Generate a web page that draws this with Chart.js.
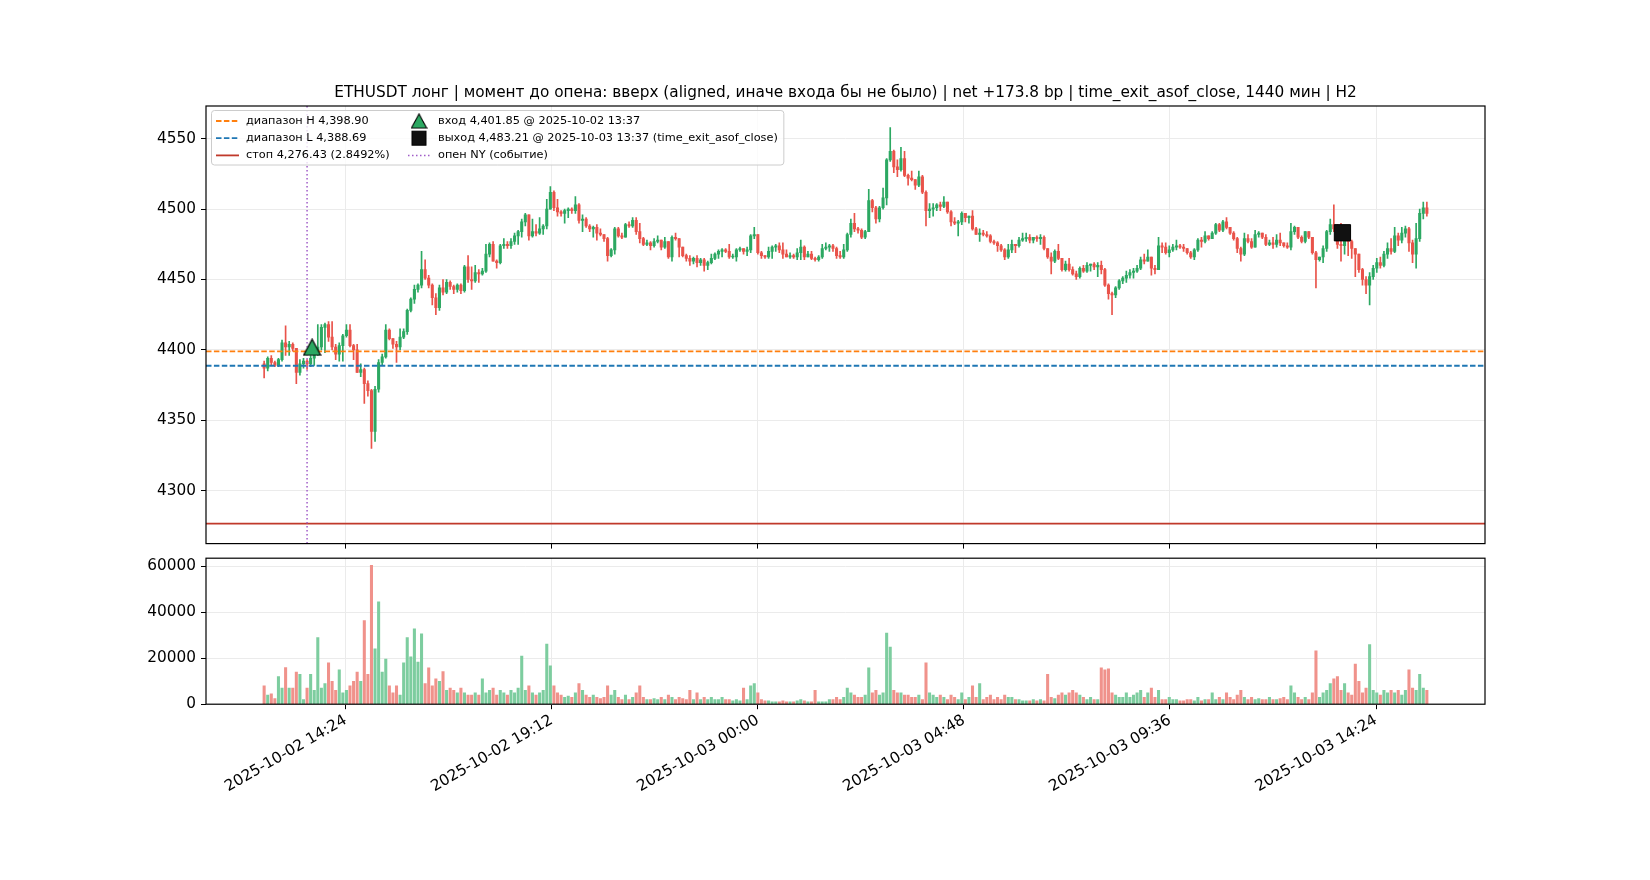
<!DOCTYPE html>
<html>
<head>
<meta charset="utf-8">
<script src="https://cdn.jsdelivr.net/npm/chart.js@4.4.1/dist/chart.umd.min.js"></script>
<style>
html,body{margin:0;padding:0;background:#fff;}
#wrap{position:relative;width:1650px;height:880px;overflow:hidden;}
#wrap canvas{position:absolute;left:0;top:0;}
</style>
</head>
<body>
<div id="wrap">
  <canvas id="priceChart" width="1650" height="880"></canvas>
  <canvas id="volChart" width="1650" height="880"></canvas>
</div>
<script>
// ---- data (5-min candles, 2025-10-02 12:30 .. 2025-10-03 15:35) ----
const chartTitle = 'ETHUSDT лонг | момент до опена: вверх (aligned, иначе входа бы не было) | net +173.8 bp | time_exit_asof_close, 1440 мин | H2';
const startTime = 12 * 60 + 30;   // minutes since 2025-10-02 00:00
const stepMin = 5;
const firstOpen = 4390;

const closes = [
  4387,4394,4391,4389,4393,4405,4402,4404,4401,4384,
  4390,4392,4390,4394,4398,4402,4416,4418,4409,4402,
  4397,4403,4410,4414,4403,4400,4384,4386,4376,4371,
  4342,4372,4391,4395,4414,4408,4404,4402,4409,4413,
  4428,4436,4443,4446,4457,4451,4446,4437,4430,4444,
  4441,4448,4445,4443,4446,4442,4459,4450,4449,4455,
  4454,4456,4468,4475,4463,4462,4474,4475,4474,4477,
  4481,4484,4491,4496,4481,4484,4483,4486,4488,4500,
  4512,4501,4498,4497,4499,4500,4499,4503,4492,4493,
  4488,4486,4487,4483,4482,4479,4467,4471,4486,4481,
  4480,4489,4488,4492,4484,4479,4475,4476,4474,4477,
  4478,4473,4477,4466,4480,4479,4473,4467,4465,4463,
  4465,4462,4464,4460,4462,4465,4468,4470,4471,4470,
  4466,4466,4471,4472,4470,4471,4481,4482,4469,4467,
  4466,4470,4473,4474,4471,4468,4466,4467,4466,4469,
  4473,4466,4468,4465,4464,4466,4472,4473,4474,4472,
  4467,4466,4471,4482,4490,4486,4485,4480,4484,4506,
  4501,4493,4501,4508,4535,4541,4530,4528,4536,4524,
  4522,4521,4517,4523,4512,4499,4500,4501,4503,4502,
  4505,4498,4491,4490,4491,4497,4494,4495,4486,4482,
  4483,4482,4481,4477,4476,4474,4471,4466,4471,4475,
  4474,4478,4479,4480,4478,4480,4479,4480,4472,4466,
  4463,4470,4465,4457,4461,4457,4454,4452,4458,4456,
  4460,4461,4459,4460,4457,4446,4440,4439,4444,4449,
  4451,4453,4455,4456,4458,4464,4463,4466,4458,4457,
  4474,4473,4469,4471,4473,4474,4473,4472,4469,4466,
  4471,4478,4477,4481,4479,4483,4489,4485,4491,4487,
  4483,4479,4472,4468,4479,4477,4473,4482,4483,4480,
  4475,4476,4475,4478,4476,4474,4473,4484,4487,4480,
  4477,4484,4480,4469,4464,4466,4472,4484,4489,4486,
  4475,4474,4482,4477,4472,4468,4457,4450,4446,4452,
  4458,4462,4460,4468,4472,4470,4481,4478,4483,4486,
  4476,4468,4479,4497,4501,4497
];
const highs = [
  4392,4395,4396,4392,4394,4407,4417,4406,4405,4401,
  4393,4394,4393,4396,4400,4418,4418,4419,4420,4420,
  4404,4405,4411,4418,4418,4404,4404,4390,4387,4378,
  4372,4374,4393,4397,4418,4415,4408,4406,4415,4415,
  4429,4437,4446,4447,4470,4464,4453,4447,4440,4446,
  4450,4450,4449,4446,4447,4447,4460,4467,4459,4460,
  4457,4458,4475,4476,4477,4464,4475,4479,4477,4479,
  4483,4485,4493,4497,4496,4493,4489,4494,4489,4507,
  4516,4513,4507,4499,4500,4501,4501,4509,4504,4496,
  4494,4489,4488,4489,4486,4482,4480,4472,4487,4487,
  4483,4490,4491,4494,4494,4490,4480,4478,4477,4479,
  4481,4478,4480,4477,4481,4483,4479,4473,4468,4467,
  4466,4467,4465,4465,4463,4468,4469,4471,4472,4472,
  4475,4468,4472,4473,4472,4473,4482,4487,4482,4470,
  4467,4473,4474,4475,4476,4476,4471,4469,4468,4472,
  4478,4474,4470,4470,4466,4467,4475,4476,4475,4475,
  4473,4470,4475,4483,4493,4497,4487,4486,4485,4514,
  4507,4502,4502,4515,4536,4558,4542,4535,4544,4541,
  4525,4527,4521,4527,4524,4513,4504,4504,4504,4505,
  4509,4505,4499,4494,4492,4498,4497,4495,4499,4487,
  4486,4485,4484,4482,4478,4477,4475,4472,4475,4478,
  4475,4480,4483,4483,4482,4480,4481,4482,4481,4472,
  4469,4471,4475,4465,4463,4465,4459,4456,4459,4460,
  4462,4461,4462,4462,4463,4458,4447,4441,4445,4450,
  4452,4456,4457,4458,4460,4466,4468,4471,4466,4460,
  4480,4476,4476,4474,4475,4478,4475,4475,4472,4470,
  4472,4479,4480,4484,4481,4484,4490,4490,4492,4494,
  4487,4484,4480,4473,4483,4482,4479,4485,4484,4483,
  4482,4478,4480,4482,4483,4476,4476,4490,4488,4487,
  4481,4484,4484,4480,4470,4466,4474,4485,4493,4503,
  4489,4490,4483,4483,4478,4472,4468,4458,4452,4455,
  4460,4465,4466,4470,4476,4479,4487,4483,4487,4488,
  4487,4478,4490,4500,4505,4505
];
const lows = [
  4380,4385,4389,4388,4388,4392,4396,4396,4399,4376,
  4382,4387,4386,4388,4389,4396,4400,4398,4406,4400,
  4393,4392,4392,4409,4402,4393,4384,4381,4362,4367,
  4330,4335,4370,4389,4394,4407,4401,4391,4400,4408,
  4411,4427,4433,4441,4444,4450,4444,4432,4425,4428,
  4439,4440,4443,4440,4441,4440,4441,4448,4443,4448,
  4448,4453,4455,4466,4463,4458,4461,4472,4472,4472,
  4475,4475,4480,4488,4478,4480,4481,4482,4482,4486,
  4500,4499,4495,4495,4490,4494,4497,4497,4490,4484,
  4487,4484,4480,4478,4481,4477,4463,4466,4468,4480,
  4479,4480,4487,4487,4482,4476,4474,4474,4471,4473,
  4476,4471,4472,4465,4463,4478,4466,4466,4463,4460,
  4461,4459,4460,4456,4457,4461,4464,4465,4466,4469,
  4465,4465,4463,4470,4468,4467,4469,4479,4468,4465,
  4465,4465,4465,4470,4469,4465,4466,4465,4465,4464,
  4464,4464,4466,4464,4463,4463,4465,4471,4470,4470,
  4465,4465,4465,4470,4480,4484,4483,4479,4479,4484,
  4498,4490,4491,4500,4503,4534,4526,4523,4527,4523,
  4517,4520,4514,4516,4511,4488,4494,4495,4499,4499,
  4501,4497,4488,4489,4481,4489,4491,4490,4485,4482,
  4477,4481,4480,4476,4475,4470,4470,4464,4465,4469,
  4469,4473,4477,4477,4476,4476,4477,4475,4471,4465,
  4454,4462,4464,4456,4456,4456,4453,4450,4451,4455,
  4455,4456,4457,4452,4454,4445,4436,4425,4437,4443,
  4447,4448,4451,4451,4455,4457,4461,4463,4453,4454,
  4457,4469,4468,4466,4470,4471,4472,4470,4468,4465,
  4464,4470,4473,4476,4478,4479,4482,4484,4484,4486,
  4482,4478,4469,4463,4467,4476,4472,4473,4480,4479,
  4474,4474,4472,4473,4474,4473,4472,4471,4482,4479,
  4476,4476,4479,4468,4444,4463,4462,4470,4482,4484,
  4472,4463,4468,4467,4465,4452,4455,4446,4440,4432,
  4450,4455,4458,4459,4465,4468,4469,4474,4476,4480,
  4470,4462,4458,4477,4493,4495
];
const volumes = [
  8000,4000,4500,2500,12000,7000,16000,7000,7000,14000,
  13000,2000,7000,13000,6000,29000,7000,9000,18000,10000,
  6000,15000,5000,6000,8000,10000,14000,10000,36400,13000,
  60500,24100,44600,14000,19700,8000,5000,8000,4000,18000,
  29000,20600,32800,18400,30600,9000,15800,8000,11000,10000,
  14200,6000,7000,6000,5000,7000,5000,4000,4000,5000,
  4000,11000,5000,6000,7000,4000,6000,5000,4000,6000,
  5000,7000,21000,6000,8000,5000,4000,5000,6000,26200,
  16700,8000,5000,4000,3000,3500,3000,5000,9000,6000,
  4000,3000,4000,3000,2500,3000,8000,4000,6000,3000,
  2000,4000,2000,3000,5000,8000,3000,2000,2000,2500,
  2000,3000,2000,4000,3000,2000,3000,2500,2000,6000,
  2000,5000,2000,3000,2000,3000,2000,2000,3000,2000,
  2000,1500,2000,1500,7000,2000,8000,9000,5000,2000,
  1500,1500,1000,1000,1000,1500,1000,1000,1000,1500,
  2000,1500,1000,1000,6000,1000,1000,1000,2000,2000,
  3000,2000,3000,7000,5000,4000,3000,3000,4000,15800,
  5000,6000,4000,5000,31000,24900,6000,5000,5000,4000,
  4000,3000,3000,4000,2000,18000,5000,4000,3000,4000,
  3000,2000,4000,3000,2000,5000,2000,3000,8000,3000,
  9000,2000,3000,4000,2000,3000,2000,4000,3000,3000,
  2000,2000,1500,1500,1500,2000,1500,2000,1500,13000,
  3000,2500,4000,5000,4000,5000,6000,5000,4000,3000,
  2000,3000,2000,2000,15800,15000,15400,5000,4000,3000,
  3000,5000,3000,4000,5000,6000,3000,5000,7000,3000,
  6000,2000,2000,3000,2000,2000,1500,1500,2000,2000,
  1500,3000,1500,2000,2000,5000,2000,3000,2000,5000,
  3000,2000,4000,6000,3000,2000,3000,2000,2500,2000,
  2000,3000,2000,2000,2500,3000,2000,8000,5000,3000,
  2000,3000,2000,5000,23200,3000,5000,6000,9000,11000,
  12000,6000,9000,5000,4000,17500,10000,5000,7000,26000,
  6000,5000,4000,6000,5000,6000,5000,6000,4000,6000,
  15000,7000,6000,13000,7000,6000
];

// levels and events
const rangeHigh = 4398.90;
const rangeLow = 4388.69;
const stopPrice = 4276.43;
const stopPct = 2.8492;
const entryTime = 13 * 60 + 37, entryPrice = 4401.85;
const exitTime = 1440 + 13 * 60 + 37, exitPrice = 4483.21;
const nyOpenTime = 13 * 60 + 30;

// axes
const xMin = 668.75, xMax = 2456.25;
const priceMin = 4262.3, priceMax = 4573.3;
const volMax = 63600;
const xTickValues = [864, 1152, 1440, 1728, 2016, 2304];
const xTickLabels = ['2025-10-02 14:24', '2025-10-02 19:12', '2025-10-03 00:00', '2025-10-03 04:48', '2025-10-03 09:36', '2025-10-03 14:24'];
const priceTicks = [4300, 4350, 4400, 4450, 4500, 4550];
const volTicks = [0, 20000, 40000, 60000];

const legendLabels = [
  'диапазон H 4,398.90',
  'диапазон L 4,388.69',
  'стоп 4,276.43 (2.8492%)',
  'вход 4,401.85 @ 2025-10-02 13:37',
  'выход 4,483.21 @ 2025-10-03 13:37 (time_exit_asof_close)',
  'опен NY (событие)'
];

// colours
const upColor = '#2ca862', downColor = '#e9534a';
const upVol = '#7dcd9f', downVol = '#f0928b';
const hColor = '#ff7f0e', lColor = '#1f77b4', stopColor = '#c0392b', nyColor = '#a05cc8';
const gridColor = '#ebebeb';
const FONT = 'DejaVu Sans';

Chart.defaults.font.family = FONT;
Chart.defaults.font.size = 15.3;
Chart.defaults.color = '#000';

// derived candle pieces
const opens = closes.map((c, i) => i === 0 ? firstOpen : closes[i - 1]);
const times = closes.map((c, i) => startTime + i * stepMin);
const isUp = closes.map((c, i) => c >= opens[i]);

// triangle marker like matplotlib '^'
const triangleMarker = (() => {
  const c = document.createElement('canvas');
  c.width = 19; c.height = 18;
  const g = c.getContext('2d');
  g.beginPath();
  g.moveTo(9.5, 1); g.lineTo(1, 17); g.lineTo(18, 17); g.closePath();
  g.fillStyle = upColor; g.fill();
  g.lineWidth = 1.2; g.strokeStyle = '#000'; g.stroke();
  return c;
})();

const framePlugin = {
  id: 'frame',
  afterDatasetsDraw(chart) {
    const {ctx, chartArea: a} = chart;
    ctx.save();
    ctx.strokeStyle = '#000';
    ctx.lineWidth = 1.2;
    ctx.strokeRect(a.left, a.top, a.right - a.left, a.bottom - a.top);
    ctx.restore();
  }
};

const titlePlugin = {
  id: 'titleText',
  afterDraw(chart) {
    const {ctx, chartArea: a} = chart;
    ctx.save();
    ctx.font = '15.3px "' + FONT + '"';
    ctx.fillStyle = '#000';
    ctx.textAlign = 'center';
    ctx.textBaseline = 'alphabetic';
    ctx.fillText(chartTitle, (a.left + a.right) / 2, a.top - 9);
    ctx.restore();
  }
};

const legendPlugin = {
  id: 'legendBox',
  afterDraw(chart) {
    const ctx = chart.ctx;
    const rows = [121, 138.2, 155.4];
    const x0 = 211.5, y0 = 110.5, h = 54.5;
    const c1 = 246, c2 = 438;
    ctx.save();
    ctx.font = '11.3px "' + FONT + '"';
    let w2 = 0;
    for (let k = 3; k < 6; k++) w2 = Math.max(w2, ctx.measureText(legendLabels[k]).width);
    const w = c2 + w2 + 6 - x0;
    ctx.beginPath();
    ctx.roundRect(x0, y0, w, h, 3);
    ctx.fillStyle = 'rgba(255,255,255,0.8)';
    ctx.fill();
    ctx.strokeStyle = '#cccccc';
    ctx.lineWidth = 1;
    ctx.stroke();

    const lineHandle = (x1, x2, y, color, dash, lw) => {
      ctx.beginPath();
      ctx.setLineDash(dash);
      ctx.strokeStyle = color;
      ctx.lineWidth = lw;
      ctx.moveTo(x1, y); ctx.lineTo(x2, y);
      ctx.stroke();
      ctx.setLineDash([]);
    };
    // column 1 handles
    lineHandle(216, 239, rows[0], hColor, [5.5, 2.4], 1.8);
    lineHandle(216, 239, rows[1], lColor, [5.5, 2.4], 1.8);
    lineHandle(216, 239, rows[2], stopColor, [], 1.8);
    // column 2 handles
    ctx.drawImage(triangleMarker, 419 - 8.5, rows[0] - 8, 17, 16);
    ctx.fillStyle = '#111';
    ctx.fillRect(419 - 7, rows[1] - 7, 14, 14);
    ctx.strokeStyle = '#000'; ctx.lineWidth = 1;
    ctx.strokeRect(419 - 7, rows[1] - 7, 14, 14);
    lineHandle(408, 431, rows[2], nyColor, [1.5, 2.5], 1.5);

    ctx.fillStyle = '#000';
    ctx.textAlign = 'left';
    ctx.textBaseline = 'middle';
    for (let k = 0; k < 3; k++) ctx.fillText(legendLabels[k], c1, rows[k]);
    for (let k = 3; k < 6; k++) ctx.fillText(legendLabels[k], c2, rows[k - 3]);
    ctx.restore();
  }
};

// ---- price chart ----
new Chart(document.getElementById('priceChart'), {
  type: 'bar',
  data: {
    datasets: [
      {
        type: 'line', label: 'entry', order: 0,
        data: [{x: entryTime, y: entryPrice}],
        showLine: false, pointStyle: triangleMarker, pointRadius: 10
      },
      {
        type: 'line', label: 'exit', order: 0,
        data: [{x: exitTime, y: exitPrice}],
        showLine: false, pointStyle: 'rect', pointRadius: 11.5,
        pointBackgroundColor: '#111', pointBorderColor: '#000', pointBorderWidth: 1
      },
      {
        type: 'line', label: 'ny', order: 1,
        data: [{x: nyOpenTime, y: priceMin}, {x: nyOpenTime, y: priceMax}],
        borderColor: nyColor, borderWidth: 1.5, borderDash: [1.5, 2.5], pointRadius: 0
      },
      {
        type: 'line', label: 'H', order: 1,
        data: [{x: xMin, y: rangeHigh}, {x: xMax, y: rangeHigh}],
        borderColor: hColor, borderWidth: 1.8, borderDash: [5.5, 2.4], pointRadius: 0
      },
      {
        type: 'line', label: 'L', order: 1,
        data: [{x: xMin, y: rangeLow}, {x: xMax, y: rangeLow}],
        borderColor: lColor, borderWidth: 1.8, borderDash: [5.5, 2.4], pointRadius: 0
      },
      {
        type: 'line', label: 'stop', order: 1,
        data: [{x: xMin, y: stopPrice}, {x: xMax, y: stopPrice}],
        borderColor: stopColor, borderWidth: 1.8, pointRadius: 0
      },
      {
        label: 'bodies', order: 2, grouped: false,
        data: times.map((t, i) => ({x: t, y: [opens[i], closes[i]]})),
        backgroundColor: isUp.map(u => u ? upColor : downColor),
        barThickness: 2.4, minBarLength: 1
      },
      {
        label: 'wicks', order: 3, grouped: false,
        data: times.map((t, i) => ({x: t, y: [lows[i], highs[i]]})),
        backgroundColor: isUp.map(u => u ? upColor : downColor),
        barThickness: 1
      }
    ]
  },
  options: {
    responsive: false,
    animation: false,
    events: [],
    layout: {padding: {left: 136, right: 165, top: 106, bottom: 330.4}},
    plugins: {legend: {display: false}, tooltip: {enabled: false}},
    scales: {
      x: {
        type: 'linear', min: xMin, max: xMax, offset: false,
        afterBuildTicks: s => { s.ticks = xTickValues.map(v => ({value: v})); },
        afterFit: s => { s.height = 6; },
        ticks: {display: false},
        grid: {offset: false, color: gridColor, tickColor: '#000', tickLength: 5},
        border: {display: false}
      },
      y: {
        min: priceMin, max: priceMax,
        afterBuildTicks: s => { s.ticks = priceTicks.map(v => ({value: v})); },
        afterFit: s => { s.width = 70; },
        ticks: {padding: 5, callback: v => String(v)},
        grid: {color: gridColor, tickColor: '#000', tickLength: 5},
        border: {display: false}
      }
    }
  },
  plugins: [framePlugin, titlePlugin, legendPlugin]
});

// ---- volume chart ----
new Chart(document.getElementById('volChart'), {
  type: 'bar',
  data: {
    datasets: [{
      label: 'volume', grouped: false,
      data: times.map((t, i) => ({x: t, y: volumes[i]})),
      backgroundColor: isUp.map(u => u ? upVol : downVol),
      barThickness: 2.4
    }]
  },
  options: {
    responsive: false,
    animation: false,
    events: [],
    layout: {padding: {left: 136, right: 165, top: 558.2, bottom: 55.8}},
    plugins: {legend: {display: false}, tooltip: {enabled: false}},
    scales: {
      x: {
        type: 'linear', min: xMin, max: xMax, offset: false,
        afterBuildTicks: s => { s.ticks = xTickValues.map(v => ({value: v})); },
        afterFit: s => { s.height = 120; },
        ticks: {autoSkip: false, minRotation: 30, maxRotation: 30, padding: 2,
                callback: (v, i) => xTickLabels[i]},
        grid: {offset: false, color: gridColor, tickColor: '#000', tickLength: 5},
        border: {display: false}
      },
      y: {
        min: 0, max: volMax,
        afterBuildTicks: s => { s.ticks = volTicks.map(v => ({value: v})); },
        afterFit: s => { s.width = 70; },
        ticks: {padding: 5, callback: v => String(v)},
        grid: {color: gridColor, tickColor: '#000', tickLength: 5},
        border: {display: false}
      }
    }
  },
  plugins: [framePlugin]
});
</script>
</body>
</html>
